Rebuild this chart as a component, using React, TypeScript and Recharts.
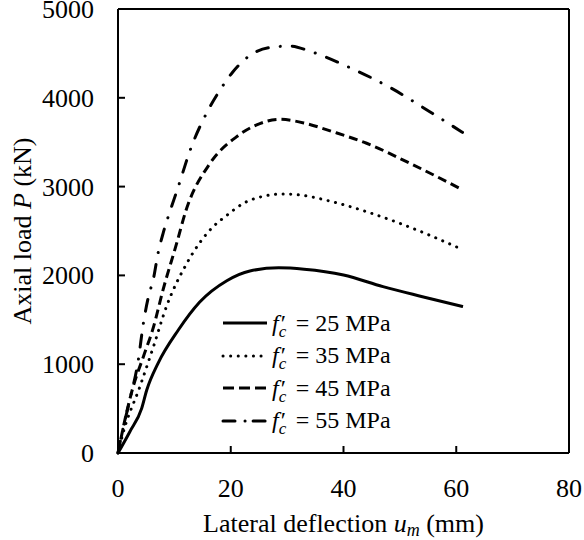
import React from "react";
import {
  LineChart,
  Line,
  XAxis,
  YAxis,
  ReferenceLine,
} from "recharts";

// lateral deflection u_m (mm) vs axial load P (kN)
const fc25 = [
  { u: 0, p: 0 }, { u: 2.1, p: 240 }, { u: 4.2, p: 503 }, { u: 5.1, p: 709 },
  { u: 7.1, p: 1010 }, { u: 10.7, p: 1385 }, { u: 14.5, p: 1700 },
  { u: 19.3, p: 1940 }, { u: 23.4, p: 2050 }, { u: 28.5, p: 2085 },
  { u: 33, p: 2070 }, { u: 40, p: 2005 }, { u: 47, p: 1873 },
  { u: 54, p: 1760 }, { u: 61.2, p: 1648 },
];
const fc35 = [
  { u: 0, p: 0 }, { u: 0.9, p: 225 }, { u: 3.9, p: 750 }, { u: 6.3, p: 1200 },
  { u: 8.6, p: 1650 }, { u: 12.2, p: 2135 }, { u: 16.9, p: 2550 },
  { u: 19, p: 2661 }, { u: 22.5, p: 2820 }, { u: 25.5, p: 2887 },
  { u: 29.3, p: 2917 }, { u: 32.3, p: 2905 }, { u: 38, p: 2830 },
  { u: 44.1, p: 2717 }, { u: 50, p: 2586 }, { u: 55, p: 2460 }, { u: 60.6, p: 2305 },
];
const fc45 = [
  { u: 0, p: 0 }, { u: 1.5, p: 450 }, { u: 2.7, p: 750 }, { u: 4.5, p: 1085 },
  { u: 6.3, p: 1420 }, { u: 8, p: 1840 }, { u: 10.4, p: 2360 },
  { u: 12, p: 2720 }, { u: 16.3, p: 3260 }, { u: 21, p: 3560 },
  { u: 24.6, p: 3695 }, { u: 28.7, p: 3758 }, { u: 33.2, p: 3713 },
  { u: 38, p: 3620 }, { u: 44.1, p: 3488 }, { u: 51.8, p: 3262 }, { u: 60.6, p: 2981 },
];
const fc55 = [
  { u: 0, p: 0 }, { u: 0.7, p: 222 }, { u: 2.1, p: 600 }, { u: 3.6, p: 1047 },
  { u: 4.5, p: 1460 }, { u: 5.4, p: 1760 }, { u: 6.3, p: 1967 },
  { u: 7.1, p: 2249 }, { u: 8, p: 2474 }, { u: 9.2, p: 2717 },
  { u: 10.7, p: 3000 }, { u: 12.8, p: 3410 }, { u: 16, p: 3863 },
  { u: 18.1, p: 4088 }, { u: 20.4, p: 4294 }, { u: 23.1, p: 4463 },
  { u: 26.7, p: 4564 }, { u: 30.5, p: 4583 }, { u: 34.3, p: 4519 },
  { u: 41.4, p: 4332 }, { u: 48.5, p: 4107 }, { u: 55.3, p: 3843 }, { u: 61.1, p: 3611 },
];

const xTicks = [0, 20, 40, 60, 80];
const yTicks = [0, 1000, 2000, 3000, 4000, 5000];
const strengths = ["25", "35", "45", "55"];

const FONT = "Liberation Serif, Times New Roman, serif";

const seriesStyle = [
  { dash: undefined, cap: "butt" },
  { dash: "0.1 7.5", cap: "round" },
  { dash: "9 5", cap: "butt" },
  { dash: "12 12 0.1 12", cap: "round" },
];

const XTick = ({ x, y, payload }: any) => (
  <g>
    <line x1={x} x2={x} y1={y} y2={y - 7} stroke="#000" strokeWidth={2} />
    <text x={x} y={y + 44} textAnchor="middle" fontSize={26} style={{ fontFamily: FONT }} fill="#000">
      {payload.value}
    </text>
  </g>
);

const YTick = ({ x, y, payload }: any) => (
  <g>
    <line x1={x} x2={x + 7} y1={y} y2={y} stroke="#000" strokeWidth={2} />
    <text x={x - 24} y={y + 9} textAnchor="end" fontSize={26} style={{ fontFamily: FONT }} fill="#000">
      {payload.value}
    </text>
  </g>
);

const XTitle = ({ viewBox }: any) => (
  <text
    x={viewBox.x + viewBox.width / 2}
    y={viewBox.y + 79}
    textAnchor="middle"
    fontSize={26}
    style={{ fontFamily: FONT }}
    fill="#000"
  >
    Lateral deflection{" "}
    <tspan fontStyle="italic">u</tspan>
    <tspan fontStyle="italic" fontSize={18} dy={4}>m</tspan>
    <tspan dy={-4}> (mm)</tspan>
  </text>
);

const YTitle = () => (
  <text
    x={31}
    y={231}
    transform="rotate(-90, 31, 231)"
    textAnchor="middle"
    fontSize={26}
    style={{ fontFamily: FONT }}
    fill="#000"
  >
    Axial load <tspan fontStyle="italic">P</tspan> (kN)
  </text>
);

const LegendBox = () => (
  <div
    style={{
      position: "absolute",
      left: 221,
      top: 307,
      fontFamily: FONT,
      fontSize: 24,
      color: "#000",
    }}
  >
    {strengths.map((s, i) => (
      <div key={s} style={{ display: "flex", alignItems: "center", height: 32.5, whiteSpace: "nowrap" }}>
        <svg width={48} height={10} style={{ marginRight: 3 }}>
          <line
            x1={2}
            x2={46}
            y1={5}
            y2={5}
            stroke="#000"
            strokeWidth={3}
            strokeDasharray={i === 1 ? "0.1 7.5" : i === 2 ? "11 5" : i === 3 ? "12 10 0.1 8" : undefined}
            strokeLinecap={i === 1 || i === 3 ? "round" : "butt"}
          />
        </svg>
        <span style={{ fontStyle: "italic" }}>f</span>
        <span style={{ display: "inline-block", position: "relative", width: 11 }}>
          <span style={{ position: "relative", left: 2 }}>′</span>
          <span style={{ position: "absolute", left: 0, top: 12, fontSize: 17, fontStyle: "italic" }}>c</span>
        </span>
        <span>&nbsp;= {s} MPa</span>
      </div>
    ))}
  </div>
);

export default function App() {
  const lines = [fc25, fc35, fc45, fc55];
  return (
    <div style={{ position: "absolute", left: 0, top: 0, width: 584, height: 540, background: "#fff" }}>
      <LineChart width={584} height={540} margin={{ top: 9, right: 15, left: 0, bottom: 0 }}>
        <XAxis
          type="number"
          dataKey="u"
          domain={[0, 80]}
          ticks={xTicks}
          tickSize={0}
          tickMargin={0}
          tickLine={false}
          tick={<XTick />}
          axisLine={{ stroke: "#000", strokeWidth: 2 }}
          height={87}
          label={<XTitle />}
        />
        <YAxis
          type="number"
          domain={[0, 5000]}
          ticks={yTicks}
          tickSize={0}
          tickMargin={0}
          tickLine={false}
          tick={<YTick />}
          axisLine={{ stroke: "#000", strokeWidth: 2 }}
          width={118}
          label={<YTitle />}
        />
        <ReferenceLine y={5000} stroke="#000" strokeWidth={2} />
        <ReferenceLine x={80} stroke="#000" strokeWidth={2} />
        {lines.map((d, i) => (
          <Line
            key={strengths[i]}
            data={d}
            dataKey="p"
            type="monotone"
            stroke="#000"
            strokeWidth={3}
            strokeDasharray={seriesStyle[i].dash}
            strokeLinecap={seriesStyle[i].cap as any}
            dot={false}
            activeDot={false}
            isAnimationActive={false}
          />
        ))}
      </LineChart>
      <LegendBox />
    </div>
  );
}
